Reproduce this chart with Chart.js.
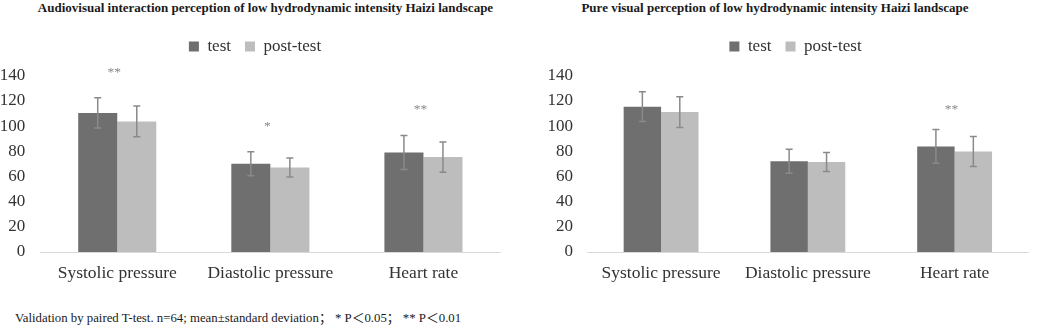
<!DOCTYPE html>
<html><head><meta charset="utf-8">
<script src="https://cdn.jsdelivr.net/npm/chart.js@4.4.0/dist/chart.umd.min.js"></script>
<style>
html,body{margin:0;padding:0;background:#fff;}
#wrap{position:relative;width:1052px;height:329px;overflow:hidden;font-family:"Liberation Serif","Times New Roman",serif;}
.cv{position:absolute;top:0;height:294px;}
.title{position:absolute;top:1px;font-size:13px;line-height:13px;font-weight:bold;color:#1a1a1a;text-align:center;white-space:nowrap;}
#note{position:absolute;left:15px;top:311px;font-size:12.8px;line-height:12.8px;color:#1a1a1a;white-space:nowrap;}
#note .cjk{font-family:"Noto Sans CJK SC",sans-serif;color:#1a1a1a;}
#note .ast{font-family:"Liberation Serif",serif;color:#1a1a1a;}
</style></head><body>
<div id="wrap">
<div class="title" style="left:0;width:531px">Audiovisual interaction perception of low hydrodynamic intensity Haizi landscape</div>
<div class="title" style="left:520px;width:510px">Pure visual perception of low hydrodynamic intensity Haizi landscape</div>
<div class="cv" style="left:0;width:520px"><canvas id="c1"></canvas></div>
<div class="cv" style="left:520px;width:532px"><canvas id="c2"></canvas></div>
<div id="note">Validation by paired T-test. n=64; mean±standard deviation<span class="cjk">；</span> <span class="ast">*</span> P<span class="cjk">＜</span>0.05<span class="cjk">；</span> <span class="ast">**</span> P<span class="cjk">＜</span>0.01</div>
</div>
<script>
const categories = ['Systolic pressure', 'Diastolic pressure', 'Heart rate'];
const seriesNames = ['test', 'post-test'];
const avTest = [110.4, 70.1, 79.1];
const avTestSD = [12.0, 9.6, 13.5];
const avPost = [103.7, 67.1, 75.4];
const avPostSD = [12.2, 7.6, 12.0];
const avSig = ['**', '*', '**'];
const pvTest = [115.4, 72.0, 83.8];
const pvTestSD = [11.8, 9.5, 13.4];
const pvPost = [111.1, 71.5, 79.8];
const pvPostSD = [12.2, 7.5, 12.0];
const pvSig = ['', '', '**'];
const yTicks = [0, 20, 40, 60, 80, 100, 120, 140];

Chart.defaults.font.family = '"Liberation Serif", "Times New Roman", serif';
Chart.defaults.color = '#3a3a3a';

const legendGap = {
  id: 'legendGap',
  beforeLayout(chart, args, opts) {
    const lg = chart.legend;
    if (lg && !lg._gapPatched) {
      const orig = lg.fit;
      lg.fit = function () { orig.call(this); this.height += opts.gap; };
      lg._gapPatched = true;
    }
  },
  afterLayout(chart, args, opts) {
    const lg = chart.legend;
    if (lg) { lg.left += opts.shift; lg.right += opts.shift; }
  }
};

const errorBars = {
  id: 'errorBars',
  afterDatasetsDraw(chart, args, opts) {
    const ctx = chart.ctx, y = chart.scales.y;
    chart.data.datasets.forEach((ds, i) => {
      const meta = chart.getDatasetMeta(i);
      meta.data.forEach((bar, j) => {
        const v = ds.data[j], e = ds.errors[j];
        const top = y.getPixelForValue(v + e), bot = y.getPixelForValue(v - e);
        ctx.save();
        ctx.strokeStyle = opts.color;
        ctx.lineWidth = opts.width;
        ctx.beginPath();
        ctx.moveTo(bar.x, top); ctx.lineTo(bar.x, bot);
        ctx.moveTo(bar.x - opts.cap, top); ctx.lineTo(bar.x + opts.cap, top);
        ctx.moveTo(bar.x - opts.cap, bot); ctx.lineTo(bar.x + opts.cap, bot);
        ctx.stroke();
        ctx.restore();
      });
    });
  }
};

const sigMarks = {
  id: 'sigMarks',
  afterDatasetsDraw(chart, args, opts) {
    const ctx = chart.ctx, x = chart.scales.x, y = chart.scales.y;
    opts.labels.forEach((t, j) => {
      if (!t) return;
      let topVal = 0;
      chart.data.datasets.forEach(ds => { topVal = Math.max(topVal, ds.data[j] + ds.errors[j]); });
      const px = x.getPixelForValue(j) - 3;
      const py = y.getPixelForValue(topVal) - opts.offset;
      ctx.save();
      ctx.fillStyle = opts.color;
      ctx.font = opts.font;
      ctx.textAlign = 'center';
      ctx.textBaseline = 'alphabetic';
      ctx.fillText(t, px, py);
      ctx.restore();
    });
  }
};

function makeChart(id, test, testSD, post, postSD, sig, pad, yWidth, tickPad, shift, sigOffset) {
  return new Chart(document.getElementById(id), {
    type: 'bar',
    data: {
      labels: categories,
      datasets: [
        { label: seriesNames[0], data: test, errors: testSD, backgroundColor: '#6f6f6f', borderColor: '#6f6f6f', borderWidth: 0 },
        { label: seriesNames[1], data: post, errors: postSD, backgroundColor: '#bdbdbd', borderColor: '#bdbdbd', borderWidth: 0 }
      ]
    },
    options: {
      responsive: true,
      maintainAspectRatio: false,
      animation: false,
      layout: { padding: pad },
      datasets: { bar: { categoryPercentage: 0.51, barPercentage: 1.0 } },
      scales: {
        x: {
          grid: { display: false, drawTicks: false },
          border: { display: true, color: '#d9d9d9', width: 1 },
          ticks: { padding: 10.5, font: { size: 17.5 }, color: '#333' }
        },
        y: {
          min: 0, max: 140,
          grid: { display: false, drawTicks: false },
          border: { display: false },
          ticks: { padding: tickPad, font: { size: 17 }, color: '#333' },
          afterBuildTicks: s => { s.ticks = yTicks.map(v => ({ value: v })); },
          afterFit: s => { s.width = yWidth; }
        }
      },
      plugins: {
        title: { display: false },
        tooltip: { enabled: false },
        legend: {
          display: true, position: 'top', align: 'center',
          labels: { boxWidth: 10, boxHeight: 10, padding: 14, font: { size: 17 }, color: '#333' }
        },
        legendGap: { gap: 10.7, shift: shift },
        errorBars: { color: '#8a8a8a', width: 1.5, cap: 3.5 },
        sigMarks: { labels: sig, offset: sigOffset, color: '#888888', font: '13.5px "Liberation Serif", serif' }
      }
    },
    plugins: [legendGap, errorBars, sigMarks]
  });
}

makeChart('c1', avTest, avTestSD, avPost, avPostSD, avSig, { top: 24, left: 0, right: 20, bottom: 0 }, 40.7, 15.5, 5, 22);
makeChart('c2', pvTest, pvTestSD, pvPost, pvPostSD, pvSig, { top: 24, left: 25, right: 24, bottom: 0 }, 42.7, 14.7, 9, 17);
</script>
</body></html>
